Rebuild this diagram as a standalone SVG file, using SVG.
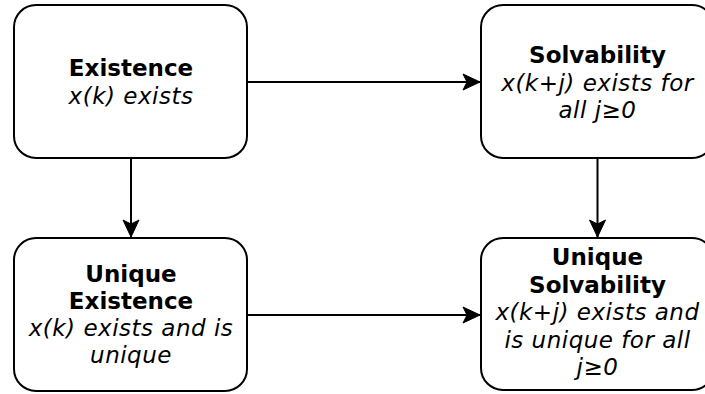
<svg xmlns="http://www.w3.org/2000/svg" width="705" height="394" viewBox="0 0 705 394">
<defs>
<style>
.box{fill:#fff;stroke:#000;stroke-width:2}
.edge{fill:none;stroke:#000;stroke-width:2}
.t{font-family:"DejaVu Sans","Verdana",sans-serif;font-size:23px;text-anchor:middle;fill:#000}
.b{font-weight:bold}
.i{font-style:italic;letter-spacing:0.5px}
</style>
<marker id="arr" viewBox="0 0 20 20" refX="18" refY="10" markerWidth="20" markerHeight="20" markerUnits="userSpaceOnUse" orient="auto">
<path d="M18,10 L1,2 L5,10 L1,18 Z" fill="#000" stroke="#000" stroke-width="1"/>
</marker>
</defs>
<rect width="705" height="394" fill="#fff"/>
<g id="connectors">
<path class="edge" d="M247,82 H480" marker-end="url(#arr)"/>
<path class="edge" d="M131,159 V237" marker-end="url(#arr)"/>
<path class="edge" d="M597.5,158 V237" marker-end="url(#arr)"/>
<path class="edge" d="M247,315 H480" marker-end="url(#arr)"/>
</g>
<g id="existence">
<rect class="box" x="14" y="5" width="233" height="153" rx="22"/>
<text class="t b" x="131" y="76">Existence</text>
<text class="t i" x="131" y="104">x(k) exists</text>
</g>
<g id="solvability">
<rect class="box" x="481" y="5" width="233" height="153" rx="22"/>
<text class="t b" x="597.5" y="63">Solvability</text>
<text class="t i" x="597.5" y="90.5">x(k+j) exists for</text>
<text class="t i" x="597.5" y="118">all j≥0</text>
</g>
<g id="unique-existence">
<rect class="box" x="14" y="238" width="233" height="153" rx="22"/>
<text class="t b" x="131" y="282">Unique</text>
<text class="t b" x="131" y="309">Existence</text>
<text class="t i" x="131" y="336">x(k) exists and is</text>
<text class="t i" x="131" y="363">unique</text>
</g>
<g id="unique-solvability">
<rect class="box" x="481" y="238" width="233" height="152" rx="22"/>
<text class="t b" x="597.5" y="265">Unique</text>
<text class="t b" x="597.5" y="292.5">Solvability</text>
<text class="t i" x="597.5" y="320">x(k+j) exists and</text>
<text class="t i" x="597.5" y="347.5">is unique for all</text>
<text class="t i" x="597.5" y="375">j≥0</text>
</g>
</svg>
